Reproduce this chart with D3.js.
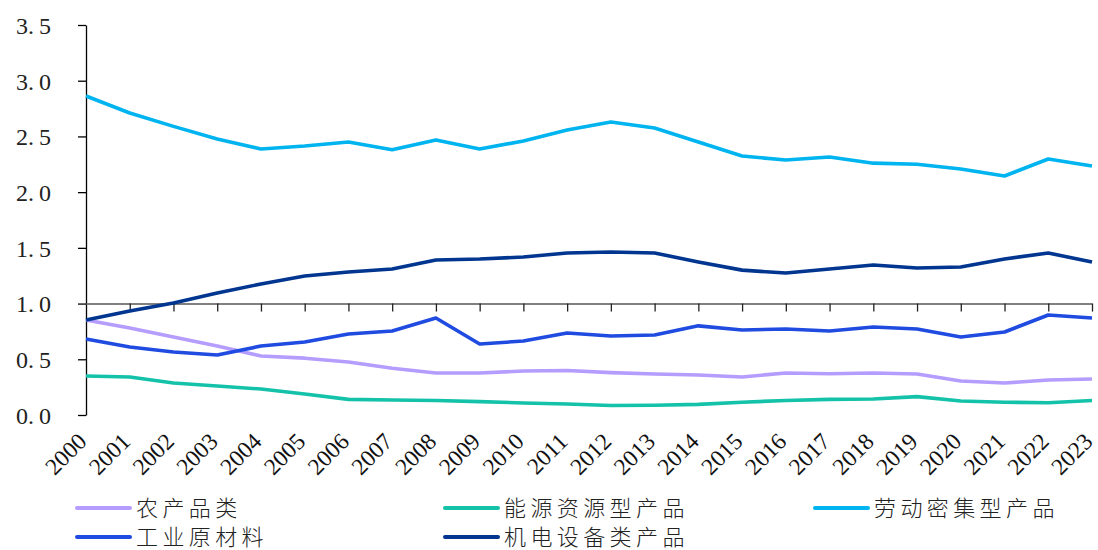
<!DOCTYPE html>
<html><head><meta charset="utf-8">
<script src="https://cdn.jsdelivr.net/npm/d3@7"></script>
<style>body{margin:0;background:#fff}</style>
</head><body><svg id="c" width="1098" height="550"></svg>
<script>
const years = d3.range(2000, 2024).map(String);
const agri = [0.853,0.78,0.70,0.62,0.53,0.51,0.476,0.42,0.377,0.377,0.395,0.40,0.38,0.368,0.359,0.341,0.377,0.37,0.377,0.368,0.305,0.287,0.314,0.323];
const energy = [0.35,0.341,0.287,0.26,0.233,0.188,0.14,0.135,0.13,0.12,0.108,0.099,0.085,0.088,0.095,0.115,0.13,0.14,0.143,0.165,0.125,0.115,0.11,0.13];
const labor = [2.863,2.71,2.59,2.477,2.387,2.414,2.45,2.38,2.468,2.387,2.459,2.558,2.63,2.576,2.45,2.324,2.288,2.315,2.26,2.25,2.208,2.145,2.297,2.235];
const rawMat = [0.682,0.61,0.565,0.538,0.619,0.655,0.727,0.754,0.87,0.637,0.664,0.736,0.709,0.718,0.80,0.763,0.772,0.754,0.79,0.772,0.70,0.745,0.897,0.87];
const mech = [0.853,0.933,1.005,1.095,1.176,1.247,1.283,1.31,1.391,1.40,1.418,1.454,1.463,1.454,1.373,1.30,1.274,1.31,1.346,1.319,1.328,1.40,1.454,1.373];
const seriesNames = ["农产品类","能源资源型产品","劳动密集型产品","工业原材料","机电设备类产品"];
const seriesColors = ["#B59CFF","#14C2AA","#00B4F0","#1F4BE0","#003590"];
const seriesData = [agri, energy, labor, rawMat, mech];
const yTicks = [0,0.5,1.0,1.5,2.0,2.5,3.0,3.5];

const svg = d3.select("#c");
const x = d3.scalePoint().domain(years).range([86,1092]);
const y = d3.scaleLinear().domain([0,3.5]).range([415,25]);
const serif = "'Liberation Serif','DejaVu Serif',serif";

// y axis
const ya = svg.append("g").attr("transform","translate(86,0)")
  .call(d3.axisLeft(y).tickValues(yTicks).tickSize(8).tickSizeOuter(0).tickFormat(d3.format(".1f")));
ya.select(".domain").attr("stroke","#000").attr("stroke-width",1.3);
ya.selectAll(".tick line").attr("stroke","#000").attr("stroke-width",1.3);
ya.selectAll(".tick text").each(function(d){
  const t = d3.select(this); const s = d3.format(".1f")(d); const parts = s.split(".");
  t.text(null).attr("x",-35).attr("font-family",serif).attr("font-size",24).attr("fill","#222").attr("text-anchor","end").attr("dy","0.35em");
  t.append("tspan").text(parts[0]+".");
  t.append("tspan").attr("dx",5).text(parts[1]);
});

// x axis at y=1.0
const xa = svg.append("g").attr("transform",`translate(0,${y(1)})`)
  .call(d3.axisBottom(x).tickSize(8).tickSizeOuter(0));
xa.select(".domain").attr("stroke","#808080").attr("stroke-width",2);
xa.selectAll(".tick line").attr("stroke","#222").attr("stroke-width",1.3)
  .filter(d=>d==="2000").remove();
xa.selectAll(".tick text").remove();

// x labels at bottom
svg.append("g").selectAll("text").data(years).join("text")
  .attr("transform",d=>`translate(${x(d)+2},${443}) rotate(-45)`)
  .attr("text-anchor","end").attr("font-family",serif).attr("font-size",23.5).attr("fill","#111")
  .text(d=>d);

// lines
const line = d3.line().x((d,i)=>x(years[i])).y(d=>y(d));
[0,1,2,3,4].forEach(k=>{
  svg.append("path").datum(seriesData[k]).attr("d",line).attr("fill","none")
    .attr("stroke",seriesColors[k]).attr("stroke-width",3.6).attr("stroke-linejoin","round");
});

// legend
const legPos = [[77,508],[445,508],[815,508],[77,537],[445,537]];
seriesNames.forEach((n,k)=>{
  const [lx,ly] = legPos[k];
  svg.append("line").attr("x1",lx).attr("x2",lx+53).attr("y1",ly).attr("y2",ly)
    .attr("stroke",seriesColors[k]).attr("stroke-width",4).attr("stroke-linecap","round");
  svg.append("text").attr("x",lx+59).attr("y",ly).attr("dy","0.36em")
    .attr("font-family","'Noto Sans CJK SC',sans-serif").attr("font-size",22).attr("font-weight",300).attr("letter-spacing",4.4)
    .attr("fill","#222").text(n);
});
</script></body></html>
